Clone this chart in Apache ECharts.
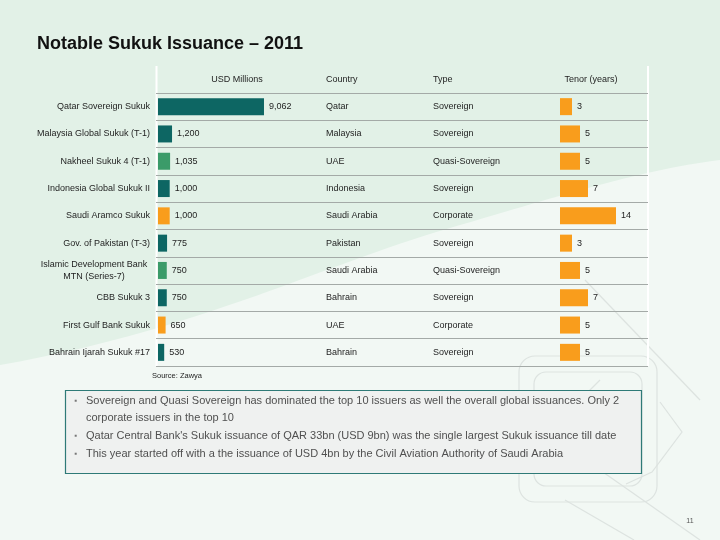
<!DOCTYPE html>
<html>
<head>
<meta charset="utf-8">
<script src="https://cdn.jsdelivr.net/npm/echarts@6/dist/echarts.min.js"></script>
<style>
  html, body { margin: 0; padding: 0; background: #e2f1e7; }
  #chart { width: 720px; height: 540px; }
</style>
</head>
<body>
<div id="chart"></div>
<script>
// ---------- data ----------
const issuers = [
  'Qatar Sovereign Sukuk',
  'Malaysia Global Sukuk (T-1)',
  'Nakheel Sukuk 4 (T-1)',
  'Indonesia Global Sukuk II',
  'Saudi Aramco Sukuk',
  'Gov. of Pakistan (T-3)',
  'Islamic Development Bank\nMTN (Series-7)',
  'CBB Sukuk 3',
  'First Gulf Bank Sukuk',
  'Bahrain Ijarah Sukuk #17'
];
const usdMillions = [9062, 1200, 1035, 1000, 1000, 775, 750, 750, 650, 530];
const countries = ['Qatar', 'Malaysia', 'UAE', 'Indonesia', 'Saudi Arabia', 'Pakistan', 'Saudi Arabia', 'Bahrain', 'UAE', 'Bahrain'];
const types = ['Sovereign', 'Sovereign', 'Quasi-Sovereign', 'Sovereign', 'Corporate', 'Sovereign', 'Quasi-Sovereign', 'Sovereign', 'Corporate', 'Sovereign'];
const tenorYears = [3, 5, 5, 7, 14, 3, 5, 7, 5, 5];
const headers = ['USD Millions', 'Country', 'Type', 'Tenor (years)'];
const title = 'Notable Sukuk Issuance \u2013 2011';
const source = 'Source: Zawya';
const notes = [
  ['Sovereign and Quasi Sovereign has dominated the top 10 issuers as well the overall global issuances. Only 2', 'corporate issuers in the top 10'],
  ["Qatar Central Bank's Sukuk issuance of QAR 33bn (USD 9bn) was the single largest Sukuk issuance till date"],
  ['This year started off with a the issuance of USD 4bn by the Civil Aviation Authority of Saudi Arabia']
];
const pageNumber = '11';

// ---------- styles ----------
const typeColors = { 'Sovereign': '#0d6663', 'Quasi-Sovereign': '#3b9b69', 'Corporate': '#f99d1c' };
const tenorColor = '#f99d1c';
const FONT = '"Liberation Sans", Arial, sans-serif';
const txt = '#1e1e1e';

const chart = echarts.init(document.getElementById('chart'), null, { renderer: 'canvas' });

const tableTop = 93, tableH = 273;

// background swoosh outline (decorative)
function cubic(p0, p1, p2, p3, n) {
  const pts = [];
  for (let i = 0; i <= n; i++) {
    const t = i / n, u = 1 - t;
    pts.push([
      u*u*u*p0[0] + 3*u*u*t*p1[0] + 3*u*t*t*p2[0] + t*t*t*p3[0],
      u*u*u*p0[1] + 3*u*u*t*p1[1] + 3*u*t*t*p2[1] + t*t*t*p3[1]
    ]);
  }
  return pts;
}
const swoosh = cubic([0, 365], [200, 330], [330, 262], [450, 228], 30)
  .concat(cubic([450, 228], [560, 196], [640, 170], [720, 160], 30).slice(1))
  .concat([[720, 540], [0, 540]]);

const noteGraphics = [];
let ny = 401;
notes.forEach(function (lines) {
  noteGraphics.push({ type: 'text', x: 76, y: ny, style: { text: '\u25AA', fill: '#777', font: '8px ' + FONT, textAlign: 'center', textVerticalAlign: 'middle' } });
  lines.forEach(function (l, i) {
    noteGraphics.push({ type: 'text', x: 86, y: ny, style: { text: l, fill: '#505050', font: '11px ' + FONT, textVerticalAlign: 'middle' } });
    ny += (i < lines.length - 1) ? 17 : 18;
  });
});

const deco = { fill: 'none', stroke: '#dde3e0', lineWidth: 1.2 };

const option = {
  backgroundColor: '#e2f1e7',
  animation: false,
  textStyle: { fontFamily: FONT },
  grid: [
    { left: 158, top: tableTop, width: 160, height: tableH },   // USD bars
    { left: 560, top: tableTop, width: 88, height: tableH },    // tenor bars
    { left: 156, top: tableTop, width: 492, height: tableH }    // table lines
  ],
  xAxis: [
    { gridIndex: 0, type: 'value', min: 0, max: 13680, show: false },
    { gridIndex: 1, type: 'value', min: 0, max: 22, show: false },
    { gridIndex: 2, type: 'value', min: 0, max: 1, show: false }
  ],
  yAxis: [
    { gridIndex: 0, type: 'category', data: issuers, inverse: true,
      axisLine: { show: false }, axisTick: { show: false },
      axisLabel: { margin: 8, fontSize: 9, color: txt, fontFamily: FONT, lineHeight: 12,
        formatter: function (v) {
          if (v.indexOf('\n') >= 0) {
            return v.split('\n').map(function (s) { return '{c|' + s + '}'; }).join('\n');
          }
          return v;
        },
        rich: { c: { width: 112, align: 'center', fontSize: 9, color: txt, fontFamily: FONT, lineHeight: 12 } } } },
    { gridIndex: 1, type: 'category', data: issuers, inverse: true, show: false },
    { gridIndex: 1, type: 'category', data: countries, inverse: true, position: 'left', offset: 234,
      axisLine: { show: false }, axisTick: { show: false },
      axisLabel: { align: 'left', margin: 0, fontSize: 9, color: txt, fontFamily: FONT } },
    { gridIndex: 1, type: 'category', data: types, inverse: true, position: 'left', offset: 127,
      axisLine: { show: false }, axisTick: { show: false },
      axisLabel: { align: 'left', margin: 0, fontSize: 9, color: txt, fontFamily: FONT } },
    { gridIndex: 2, type: 'category', data: issuers, inverse: true,
      axisLine: { show: false }, axisTick: { show: false }, axisLabel: { show: false },
      splitLine: { show: true, showMinLine: true, showMaxLine: true, lineStyle: { color: '#a4aaa7', width: 1.2 } } }
  ],
  series: [
    { type: 'bar', xAxisIndex: 0, yAxisIndex: 0, barWidth: 17,
      data: usdMillions.map(function (v, i) { return { value: v, itemStyle: { color: typeColors[types[i]] } }; }),
      label: { show: true, position: 'right', distance: 5, fontSize: 9, color: txt, fontFamily: FONT,
        formatter: function (p) { return p.value.toLocaleString('en-US'); } } },
    { type: 'bar', xAxisIndex: 1, yAxisIndex: 1, barWidth: 17,
      data: tenorYears, itemStyle: { color: tenorColor },
      label: { show: true, position: 'right', distance: 5, fontSize: 9, color: txt, fontFamily: FONT } }
  ],
  graphic: [
    { type: 'polygon', z: -10, silent: true, shape: { points: swoosh }, style: { fill: '#f2f8f4' } },
    { type: 'rect', z: -9, silent: true, shape: { x: 519, y: 356, width: 138, height: 146, r: 16 }, style: deco },
    { type: 'rect', z: -9, silent: true, shape: { x: 534, y: 372, width: 108, height: 114, r: 12 }, style: deco },
    { type: 'polyline', z: -9, silent: true, shape: { points: [[560, 420], [600, 380]] }, style: deco },
    { type: 'polyline', z: -9, silent: true, shape: { points: [[660, 402], [682, 432], [652, 472], [626, 484]] }, style: deco },
    { type: 'polyline', z: -9, silent: true, shape: { points: [[585, 280], [700, 400]] }, style: deco },
    { type: 'polyline', z: -9, silent: true, shape: { points: [[565, 500], [634, 540]] }, style: deco },
    { type: 'polyline', z: -9, silent: true, shape: { points: [[600, 470], [700, 540]] }, style: deco },
    // title
    { type: 'text', x: 37, y: 44, style: { text: title, font: 'bold 18px ' + FONT, fill: '#111', textVerticalAlign: 'middle' } },
    // white vertical rules
    { type: 'line', shape: { x1: 156.5, y1: 66, x2: 156.5, y2: 366 }, style: { stroke: '#ffffff', lineWidth: 2 } },
    { type: 'line', shape: { x1: 648, y1: 66, x2: 648, y2: 366 }, style: { stroke: '#ffffff', lineWidth: 2 } },
    // headers
    { type: 'text', x: 237, y: 80, style: { text: headers[0], font: '9px ' + FONT, fill: txt, textAlign: 'center', textVerticalAlign: 'middle' } },
    { type: 'text', x: 326, y: 80, style: { text: headers[1], font: '9px ' + FONT, fill: txt, textVerticalAlign: 'middle' } },
    { type: 'text', x: 433, y: 80, style: { text: headers[2], font: '9px ' + FONT, fill: txt, textVerticalAlign: 'middle' } },
    { type: 'text', x: 591, y: 80, style: { text: headers[3], font: '9px ' + FONT, fill: txt, textAlign: 'center', textVerticalAlign: 'middle' } },
    // source
    { type: 'text', x: 152, y: 376, style: { text: source, font: '7.5px ' + FONT, fill: txt, textVerticalAlign: 'middle' } },
    // notes box
    { type: 'rect', shape: { x: 65.5, y: 390.5, width: 576, height: 83 }, style: { fill: '#eff1f0', stroke: '#2e7a77', lineWidth: 1.2 } },
    // page number
    { type: 'text', x: 690, y: 521, style: { text: pageNumber, font: '7px ' + FONT, fill: '#555', textAlign: 'center', textVerticalAlign: 'middle' } }
  ].concat(noteGraphics.map(function (g) { g.z = 10; return g; }))
};

chart.setOption(option);
</script>
</body>
</html>
